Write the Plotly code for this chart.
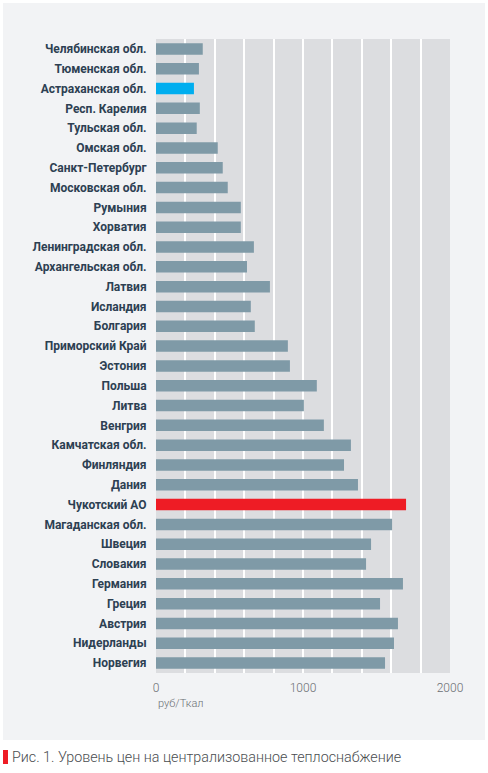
import plotly.graph_objects as go

categories = [
    "Челябинская обл.", "Тюменская обл.", "Астраханская обл.", "Респ. Карелия",
    "Тульская обл.", "Омская обл.", "Санкт-Петербург", "Московская обл.",
    "Румыния", "Хорватия", "Ленинградская обл.", "Архангельская обл.",
    "Латвия", "Исландия", "Болгария", "Приморский Край", "Эстония",
    "Польша", "Литва", "Венгрия", "Камчатская обл.", "Финляндия", "Дания",
    "Чукотский АО", "Магаданская обл.", "Швеция", "Словакия", "Германия",
    "Греция", "Австрия", "Нидерланды", "Норвегия",
]
values = [
    318, 292, 258, 298, 277, 420, 454, 488,
    577, 577, 666, 619, 775, 645, 672, 897, 911,
    1094, 1006, 1142, 1326, 1279, 1374,
    1701, 1606, 1463, 1429, 1680, 1524, 1646, 1619, 1558,
]
highlight = {"Астраханская обл.": "#00aeef", "Чукотский АО": "#ee1c25"}
base_color = "#7f9aa7"
colors = [highlight.get(c, base_color) for c in categories]

tick_vals = [0, 1000, 2000]
tick_text = ["0", "1000", "2000"]
axis_title = "руб/Ткал"
caption = "Рис. 1. Уровень цен на централизованное теплоснабжение"

W, H = 488, 773
L, R, T, B = 156, 38, 39, 100
pw, ph = W - L - R, H - T - B


def px_x(x):
    return (x - L) / pw


def px_y(y):
    return (H - B - y) / ph


fig = go.Figure(go.Bar(
    x=values, y=categories, orientation="h",
    marker=dict(color=colors, line=dict(width=0)),
    width=0.58, hoverinfo="x+y",
))

white_strips = [
    (0, W, 0, 3),
    (0, 3, 0, H),
    (485, W, 0, H),
    (0, W, 740, H),
]
shapes = [
    dict(type="rect", xref="paper", yref="paper", layer="above",
         x0=px_x(x0), x1=px_x(x1), y0=px_y(y1), y1=px_y(y0),
         fillcolor="white", line=dict(width=0))
    for (x0, x1, y0, y1) in white_strips
]
shapes.append(dict(type="rect", xref="paper", yref="paper",
                   x0=px_x(3), x1=px_x(8), y0=px_y(764), y1=px_y(750),
                   fillcolor="#ee1c25", line=dict(width=0)))

fig.update_layout(
    width=W, height=H,
    margin=dict(l=L, r=R, t=T, b=B, pad=0, autoexpand=False),
    paper_bgcolor="#f2f3f5",
    plot_bgcolor="#dcdde0",
    showlegend=False,
    font=dict(family="Roboto", color="#2d4052"),
    xaxis=dict(
        range=[0, 2000], showgrid=True, gridcolor="white", gridwidth=1.5,
        minor=dict(dtick=200, showgrid=True, gridcolor="white", gridwidth=1.5, ticks=""),
        tickmode="array", tickvals=tick_vals, ticktext=tick_text,
        tickfont=dict(family="Roboto", size=12, color="#6a6e72", weight=300),
        zeroline=False, showline=False, ticks="", ticklabelstandoff=6,
    ),
    yaxis=dict(
        showgrid=False, zeroline=False, showline=False,
        tickfont=dict(family="Roboto", size=12, color="#2d4052", weight="bold"),
        ticks="outside", ticklen=6, tickcolor="rgba(0,0,0,0)",
        range=[len(categories) - 0.5, -0.5],
    ),
    shapes=shapes,
    annotations=[
        dict(text=axis_title, xref="paper", yref="paper", x=0, y=px_y(703),
             xanchor="left", yanchor="middle", showarrow=False,
             font=dict(family="Roboto", size=11, color="#6a6e72", weight=300)),
        dict(text=caption, xref="paper", yref="paper", x=px_x(10), y=px_y(757),
             xanchor="left", yanchor="middle", showarrow=False,
             font=dict(family="Roboto", size=14.3, color="#4a4d50", weight=300)),
    ],
)

fig.write_html("out.html", config={"displayModeBar": False},
               post_script="document.body.style.margin='0';")
